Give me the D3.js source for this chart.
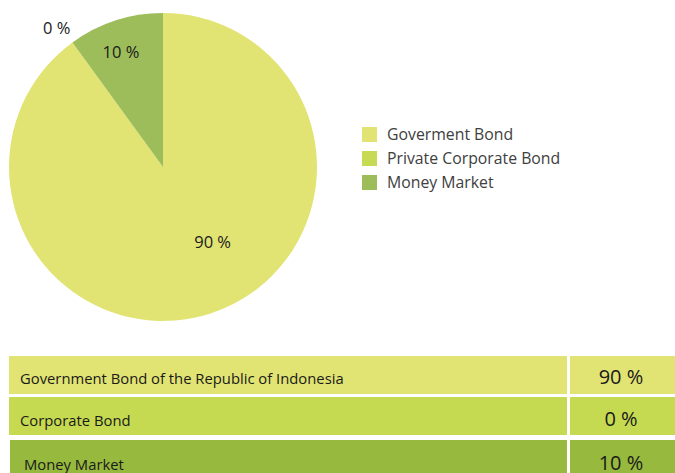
<!DOCTYPE html>
<html>
<head>
<meta charset="utf-8">
<script src="https://cdn.jsdelivr.net/npm/d3@7"></script>
<style>
  html, body { margin: 0; padding: 0; background: #ffffff; }
  svg { display: block; }
  text { font-family: "Open Sans", "Noto Sans", sans-serif; }
</style>
</head>
<body>
<svg id="chart" width="675" height="473"></svg>
<script>
// Portfolio allocation (%)
const categories = ["Goverment Bond", "Private Corporate Bond", "Money Market"];
const allocation = [90, 0, 10];
const sliceColors = ["#e1e473", "#c7da54", "#9dbc5a"];

// Table rows below the pie
const tableLabels = ["Government Bond of the Republic of Indonesia", "Corporate Bond", "Money Market"];
const tableValues = [90, 0, 10];
const tableColors = ["#e1e472", "#c6da51", "#96b93e"];

const svg = d3.select("#chart");

// ---- Pie ----
const cx = 163, cy = 167, R = 154;
const pie = d3.pie().sort(null).value(d => d);
const arcs = pie(allocation);
const arc = d3.arc().innerRadius(0).outerRadius(R);

const g = svg.append("g").attr("transform", `translate(${cx},${cy})`);
g.selectAll("path.slice")
  .data(arcs)
  .join("path")
  .attr("class", "slice")
  .attr("d", arc)
  .attr("fill", (d, i) => sliceColors[i]);

// label placement: zero-size slices get an outside label
const insideArc = d3.arc().innerRadius(R * 0.8).outerRadius(R * 0.8);
const outsideArc = d3.arc().innerRadius(R * 1.14).outerRadius(R * 1.14);
const labelShift = [[22, -10], [-3, 3], [-4, 2]];
g.selectAll("text.plabel")
  .data(arcs)
  .join("text")
  .attr("class", "plabel")
  .attr("transform", (d, i) => {
    let p;
    if (d.value === 0) p = outsideArc.centroid(d);
    else if (d.value > 50) p = d3.arc().innerRadius(R * 0.58).outerRadius(R * 0.58).centroid(d);
    else p = insideArc.centroid(d);
    return `translate(${p[0] + labelShift[i][0]},${p[1] + labelShift[i][1]})`;
  })
  .attr("text-anchor", "middle")
  .attr("dy", "0.35em")
  .attr("font-size", 16.5)
  .attr("fill", "#1a1a1a")
  .text(d => d.value + " %");

// ---- Legend ----
const legend = svg.append("g").attr("transform", "translate(362,127)");
const li = legend.selectAll("g").data(categories).join("g")
  .attr("transform", (d, i) => `translate(0,${i * 24})`);
li.append("rect").attr("width", 15).attr("height", 15)
  .attr("fill", (d, i) => sliceColors[i]);
li.append("text").attr("x", 25).attr("y", 7.5).attr("dy", "0.35em")
  .attr("font-size", 15.8).attr("fill", "#404040")
  .text(d => d);

// ---- Table ----
const rowTop = [356, 397, 440];
const rowH = [38, 38, 40];
const rowLeft = [9, 9, 10];
const col1Right = 567, col2Left = 570, col2Right = 675;

const rows = svg.append("g").selectAll("g").data(tableLabels).join("g");
rows.append("rect")
  .attr("x", (d, i) => rowLeft[i]).attr("y", (d, i) => rowTop[i])
  .attr("width", (d, i) => col1Right - rowLeft[i]).attr("height", (d, i) => rowH[i])
  .attr("fill", (d, i) => tableColors[i]);
rows.append("rect")
  .attr("x", col2Left).attr("y", (d, i) => rowTop[i])
  .attr("width", col2Right - col2Left).attr("height", (d, i) => rowH[i])
  .attr("fill", (d, i) => tableColors[i]);
rows.append("text")
  .attr("x", (d, i) => rowLeft[i] + 11 + (i === 2 ? 3 : 0))
  .attr("y", (d, i) => rowTop[i] + 28 + (i === 0 ? 0 : 1) + (i === 2 ? 1 : 0))
  .attr("font-size", 14.8).attr("fill", "#1a1a1a")
  .text(d => d);
rows.append("text")
  .attr("x", 621)
  .attr("y", (d, i) => rowTop[i] + 28 + (i === 0 ? 0 : 1) + (i === 2 ? 1 : 0))
  .attr("text-anchor", "middle")
  .attr("font-size", 20).attr("fill", "#1a1a1a")
  .text((d, i) => tableValues[i] + " %");
</script>
</body>
</html>
